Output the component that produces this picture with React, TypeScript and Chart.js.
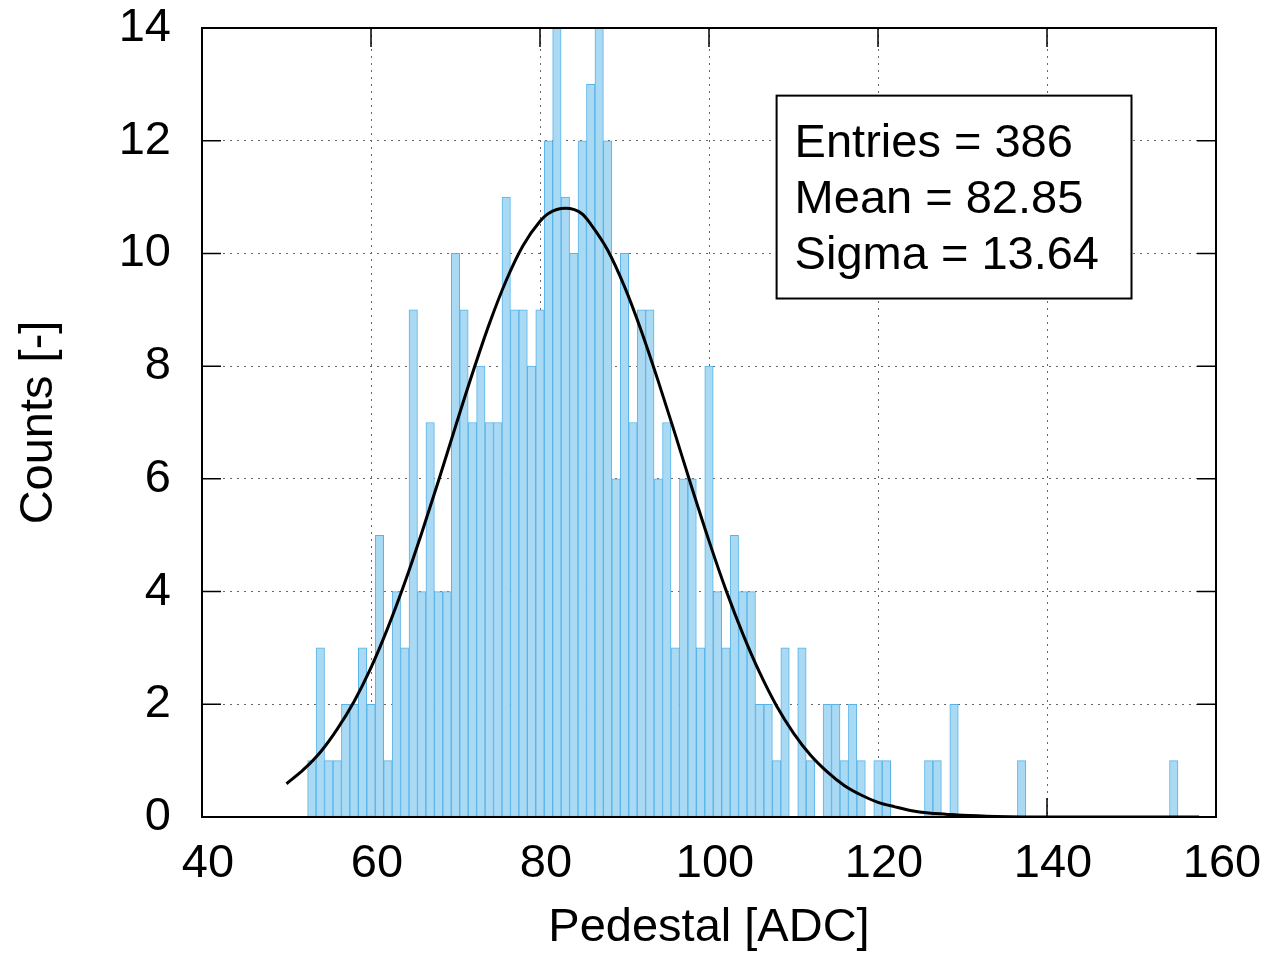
import React, { useEffect, useRef } from "react";
import { Chart, registerables } from "chart.js";

Chart.register(...registerables);

// Histogram bins (bin centres, width 1 ADC) and their counts
const binCenters = [
  53, 54, 55, 56, 57, 58, 59, 60, 61, 62, 63, 64, 65, 66, 67, 68, 69, 70,
  71, 72, 73, 74, 75, 76, 77, 78, 79, 80, 81, 82, 83, 84, 85, 86, 87, 88,
  89, 90, 91, 92, 93, 94, 95, 96, 97, 98, 99, 100, 101, 102, 103, 104, 105,
  106, 107, 108, 109, 111, 112, 114, 115, 116, 117, 118, 120, 121, 126, 127,
  129, 137, 155,
];
const binCounts = [
  1, 3, 1, 1, 2, 2, 3, 2, 5, 1, 4, 3, 9, 4, 7, 4, 4, 10,
  9, 7, 8, 7, 7, 11, 9, 9, 8, 9, 12, 14, 11, 10, 12, 13, 14, 12,
  6, 10, 7, 9, 9, 6, 7, 3, 6, 6, 3, 8, 4, 3, 5, 4, 4,
  2, 2, 1, 3, 3, 1, 2, 2, 1, 2, 1, 1, 1, 1, 1,
  2, 1, 1,
];

// Fitted curve
const fitX = [
  50, 52, 54, 56, 58, 60, 62, 64, 66, 68, 70, 72, 74, 76, 78, 80, 81, 83, 85,
  86, 88, 90, 92, 94, 96, 98, 100, 102, 104, 106, 108, 110, 112, 114, 116, 118,
  120, 122, 124, 126, 128, 130, 134, 140, 150, 158,
];
const fitY = [
  0.59, 0.84, 1.15, 1.56, 2.05, 2.65, 3.36, 4.16, 5.04, 5.97, 6.93, 7.87,
  8.75, 9.52, 10.14, 10.57, 10.71, 10.8, 10.7, 10.52, 10.06, 9.41, 8.62, 7.73,
  6.79, 5.83, 4.9, 4.03, 3.25, 2.56, 1.97, 1.49, 1.1, 0.8, 0.56, 0.39, 0.26,
  0.18, 0.11, 0.07, 0.05, 0.03, 0.01, 0, 0, 0,
];

const statLines = ["Entries = 386", "Mean = 82.85", "Sigma = 13.64"];
const xTitle = "Pedestal [ADC]";
const yTitle = "Counts [-]";

const FONT_FAMILY = '"Liberation Sans", Arial, Helvetica, sans-serif';
const FONT_SIZE = 47;

const innerTicksPlugin = {
  id: "innerTicks",
  beforeDatasetsDraw(chart: any) {
    const { ctx, chartArea } = chart;
    const { left, right, top, bottom } = chartArea;
    const xs = chart.scales.x;
    const ys = chart.scales.y;
    const len = 19;
    ctx.save();
    ctx.strokeStyle = "#000";
    ctx.lineWidth = 1.5;
    ctx.beginPath();
    xs.ticks.forEach((t: any) => {
      const p = xs.getPixelForValue(t.value);
      if (p <= left + 1 || p >= right - 1) return;
      ctx.moveTo(p, bottom);
      ctx.lineTo(p, bottom - len);
      ctx.moveTo(p, top);
      ctx.lineTo(p, top + len);
    });
    ys.ticks.forEach((t: any) => {
      const p = ys.getPixelForValue(t.value);
      if (p <= top + 1 || p >= bottom - 1) return;
      ctx.moveTo(left, p);
      ctx.lineTo(left + len, p);
      ctx.moveTo(right, p);
      ctx.lineTo(right - len, p);
    });
    ctx.stroke();
    ctx.restore();
  },
  afterDatasetsDraw(chart: any) {
    const { ctx, chartArea } = chart;
    ctx.save();
    ctx.strokeStyle = "#000";
    ctx.lineWidth = 2;
    ctx.strokeRect(
      chartArea.left,
      chartArea.top,
      chartArea.right - chartArea.left,
      chartArea.bottom - chartArea.top
    );
    ctx.restore();
  },
};

const statBoxPlugin = {
  id: "statBox",
  afterDraw(chart: any) {
    const { ctx } = chart;
    const xs = chart.scales.x;
    const ys = chart.scales.y;
    const x0 = xs.getPixelForValue(108);
    const x1 = xs.getPixelForValue(150);
    const y0 = ys.getPixelForValue(12.8);
    const y1 = ys.getPixelForValue(9.2);
    ctx.save();
    ctx.fillStyle = "#fff";
    ctx.fillRect(x0, y0, x1 - x0, y1 - y0);
    ctx.strokeStyle = "#000";
    ctx.lineWidth = 2;
    ctx.strokeRect(x0, y0, x1 - x0, y1 - y0);
    ctx.fillStyle = "#000";
    ctx.font = `${FONT_SIZE}px ${FONT_FAMILY}`;
    ctx.textAlign = "left";
    ctx.textBaseline = "alphabetic";
    statLines.forEach((line, i) => {
      ctx.fillText(line, x0 + 18, y0 + 61 + i * 56);
    });
    ctx.restore();
  },
};

export default function App() {
  const canvasRef = useRef<HTMLCanvasElement | null>(null);

  useEffect(() => {
    const canvas = canvasRef.current;
    if (!canvas) return;
    const tickFont = { family: FONT_FAMILY, size: FONT_SIZE };
    const chart = new Chart(canvas, {
      type: "bar",
      data: {
        datasets: [
          {
            type: "line",
            label: "fit",
            data: fitX.map((x, i) => ({ x, y: fitY[i] })),
            borderColor: "#000",
            borderWidth: 3,
            pointRadius: 0,
            cubicInterpolationMode: "monotone",
            fill: false,
            order: 0,
          } as any,
          {
            type: "bar",
            label: "counts",
            data: binCenters.map((x, i) => ({ x, y: binCounts[i] })),
            backgroundColor: "#AAD9F3",
            borderColor: "#56B4E9",
            borderWidth: 1,
            borderSkipped: false,
            barPercentage: 1,
            categoryPercentage: 1,
            order: 1,
          } as any,
        ],
      },
      options: {
        responsive: false,
        animation: false,
        layout: { padding: { top: 28, right: 52, left: 0, bottom: 0 } },
        plugins: {
          legend: { display: false },
          tooltip: { enabled: false },
        },
        scales: {
          x: {
            type: "linear",
            min: 40,
            max: 160,
            offset: false,
            grid: {
              color: "#666",
              lineWidth: 1,
              drawTicks: false,
              offset: false,
            },
            border: { display: false, dash: [2, 5] },
            ticks: {
              stepSize: 20,
              color: "#000",
              font: tickFont,
              padding: 19,
              labelOffset: 6,
              maxRotation: 0,
              autoSkip: false,
            },
            title: {
              display: true,
              text: xTitle,
              color: "#000",
              font: tickFont,
              padding: { top: 0, bottom: 9 },
            },
            afterFit: (scale: any) => {
              scale.height = 148;
              scale.paddingLeft = 0;
              scale.paddingRight = 0;
            },
          },
          y: {
            type: "linear",
            min: 0,
            max: 14,
            grid: { color: "#666", lineWidth: 1, drawTicks: false },
            border: { display: false, dash: [2, 5] },
            ticks: {
              stepSize: 2,
              color: "#000",
              font: tickFont,
              padding: 31,
            },
            title: {
              display: true,
              text: yTitle,
              color: "#000",
              font: tickFont,
              padding: { top: 11, bottom: 0 },
            },
            afterFit: (scale: any) => {
              scale.width = 202;
              scale.paddingTop = 0;
              scale.paddingBottom = 0;
            },
          },
        },
      } as any,
      plugins: [innerTicksPlugin, statBoxPlugin],
    });
    return () => {
      chart.destroy();
    };
  }, []);

  return (
    <div style={{ position: "absolute", left: 0, top: 0, width: 1268, height: 965, background: "#fff" }}>
      <canvas
        ref={canvasRef}
        width={1268}
        height={965}
        style={{ width: 1268, height: 965, display: "block" }}
      />
    </div>
  );
}
